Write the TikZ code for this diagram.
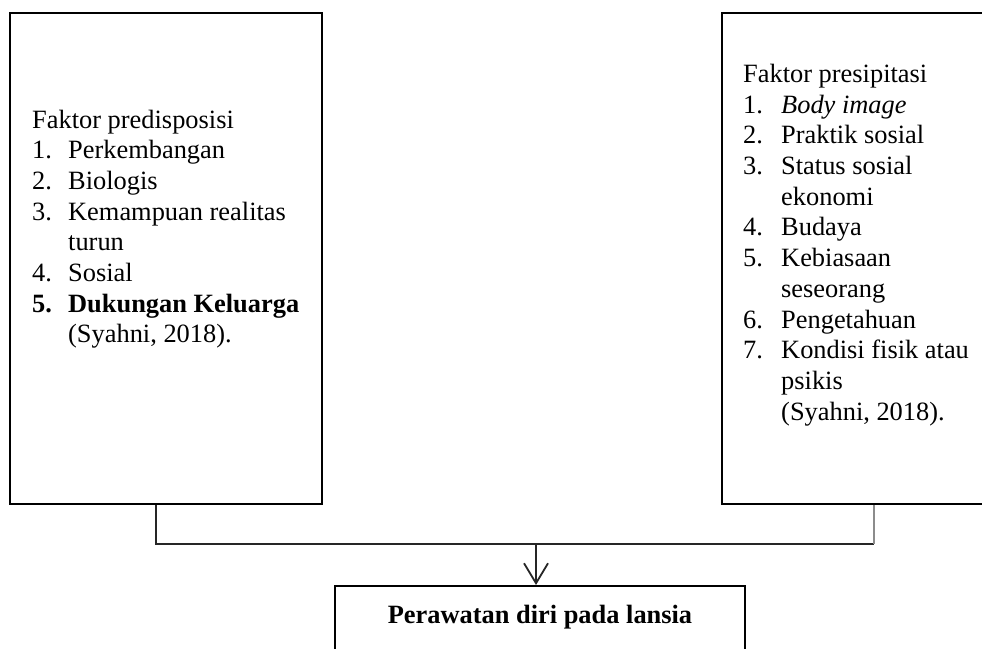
\documentclass[tikz,border=0pt]{standalone}
\usepackage{fontspec}
\setmainfont{Liberation Serif}
\usetikzlibrary{arrows.meta}
\begin{document}
\begin{tikzpicture}[x=1pt,y=-1pt,
  box/.style={draw=black, line width=2pt, rectangle, inner sep=0pt},
  conn/.style={draw=black!85, line width=1.5pt},
  txt/.style={anchor=base west, inner sep=0pt, font=\fontsize{26.4}{30.7}\selectfont}]
\useasboundingbox (0,0) rectangle (982,648);
\clip (0,0) rectangle (982,648);
\fill[white] (0,0) rectangle (982,648);
% boxes
\node[box, minimum width=312pt, minimum height=491pt] (L) at (166,258.5) {};
\node[box, minimum width=290pt, minimum height=491pt] (R) at (867,258.5) {};
\node[box, minimum width=410pt, minimum height=100pt] (B) at (540,636) {};
% texts
\node[txt] (Ltxt) at (32,128) {\begin{tabular}[t]{@{}p{36pt}@{}l@{}}
\multicolumn{2}{@{}l@{}}{Faktor predisposisi}\\
1.&Perkembangan\\
2.&Biologis\\
3.&Kemampuan realitas\\
&turun\\
4.&Sosial\\
\textbf{5.}&\textbf{Dukungan Keluarga}\\
&(Syahni, 2018).
\end{tabular}};
\node[txt] (Rtxt) at (743,82.4) {\begin{tabular}[t]{@{}p{38pt}@{}l@{}}
\multicolumn{2}{@{}l@{}}{Faktor presipitasi}\\
1.&\textit{Body image}\\
2.&Praktik sosial\\
3.&Status sosial\\
&ekonomi\\
4.&Budaya\\
5.&Kebiasaan\\
&seseorang\\
6.&Pengetahuan\\
7.&Kondisi fisik atau\\
&psikis\\
&(Syahni, 2018).
\end{tabular}};
\node[anchor=base, inner sep=0pt, font=\fontsize{26.4}{30.7}\selectfont\bfseries] (Btxt) at (540,623) {Perawatan diri pada lansia};
% connectors
\coordinate (j) at (536,544);
\coordinate (jr) at (874,544);
\draw[conn] ([xshift=-10pt]L.south) |- (jr);
\draw[conn, draw=black!45] (jr) -- (jr |- R.south);
\draw[conn, line width=1.8pt, -{Straight Barb[length=20pt,width=24pt,line width=1.8pt]}] (j) -- (j |- B.north);
\end{tikzpicture}
\end{document}
